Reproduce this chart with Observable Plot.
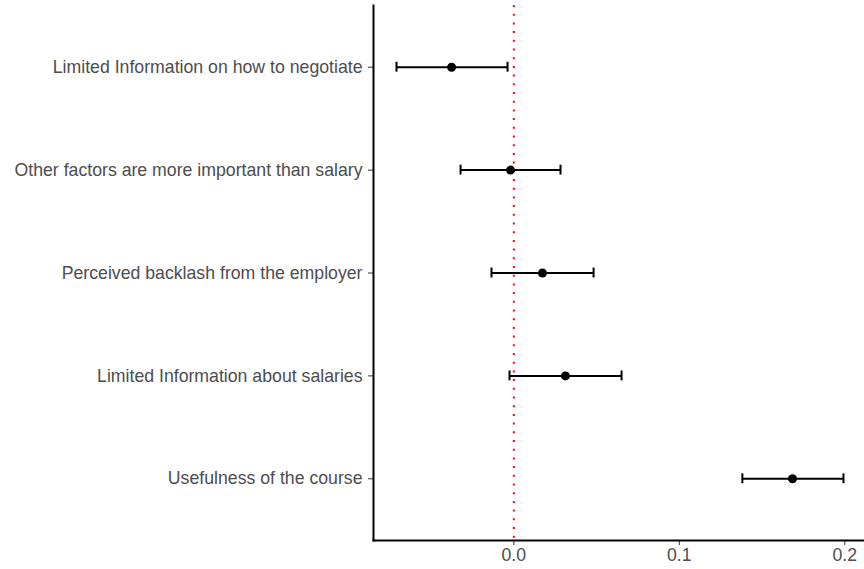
<!DOCTYPE html>
<html><head><meta charset="utf-8">
<script src="https://cdn.jsdelivr.net/npm/d3@7"></script>
<script src="https://cdn.jsdelivr.net/npm/@observablehq/plot@0.6"></script>
<style>body{margin:0;background:#fff}</style>
</head><body><div id="chart"></div>
<script>
const categories = [
  "Limited Information on how to negotiate",
  "Other factors are more important than salary",
  "Perceived backlash from the employer",
  "Limited Information about salaries",
  "Usefulness of the course"
];
const estimates = [-0.0376, -0.0020, 0.0173, 0.0312, 0.1684];
const lower = [-0.0709, -0.0322, -0.0135, -0.0026, 0.1381];
const upper = [-0.0038, 0.0282, 0.0482, 0.0651, 0.1992];
const xDomain = [-0.0848, 0.2119];
const xTicks = [0, 0.1, 0.2];
const refLine = [0];

const data = categories.map((c, i) => ({term: c, est: estimates[i], lo: lower[i], hi: upper[i]}));

const chart = Plot.plot({
  width: 864, height: 569,
  marginLeft: 373, marginRight: 0, marginTop: 5, marginBottom: 29,
  style: {fontFamily: "'Liberation Sans', Arial, sans-serif", fontSize: "17.7px", color: "#4d4d4d", background: "#fff"},
  x: {domain: xDomain},
  y: {domain: categories, paddingInner: 0, paddingOuter: 0.1, round: false},
  marks: [
    Plot.axisX({ticks: xTicks, tickFormat: d3.format(".1f"), tickSize: 5, tickPadding: 3, stroke: "#333", fill: "#4d4d4d", fontSize: 17.7, label: null}),
    Plot.axisY({tickSize: 5, tickPadding: 6, stroke: "#333", fill: "#4d4d4d", fontSize: 17.7, label: null}),
    Plot.ruleX(refLine, {stroke: "red", strokeWidth: 2, strokeDasharray: "2,6.7"}),
    Plot.ruleY(data, {y: "term", x1: "lo", x2: "hi", stroke: "black", strokeWidth: 2}),
    Plot.tickX(data, {y: "term", x: "lo", stroke: "black", strokeWidth: 2, insetTop: 46.5, insetBottom: 46.5}),
    Plot.tickX(data, {y: "term", x: "hi", stroke: "black", strokeWidth: 2, insetTop: 46.5, insetBottom: 46.5}),
    Plot.dot(data, {y: "term", x: "est", r: 4.5, fill: "black"}),
    Plot.frame({anchor: "left", stroke: "black", strokeWidth: 2}),
    Plot.frame({anchor: "bottom", stroke: "black", strokeWidth: 2})
  ]
});
document.getElementById("chart").appendChild(chart);
</script>
</body></html>
